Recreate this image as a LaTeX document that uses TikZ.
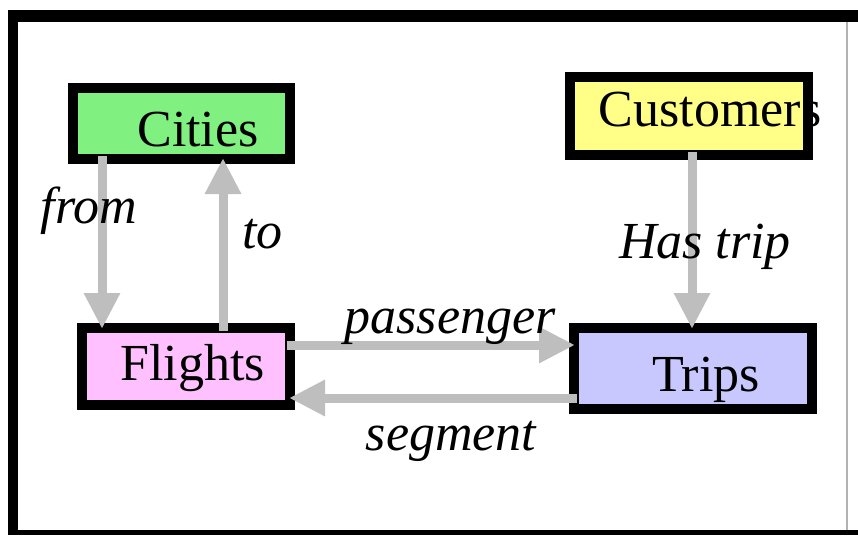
\documentclass[tikz,border=0pt]{standalone}
\usepackage{fontspec}
\setmainfont{Liberation Serif}
\usetikzlibrary{arrows.meta}
\definecolor{cityfill}{RGB}{128,240,128}
\definecolor{custfill}{RGB}{255,255,136}
\definecolor{flightfill}{RGB}{255,192,255}
\definecolor{tripfill}{RGB}{200,200,255}
\definecolor{linkgray}{RGB}{190,190,190}
\begin{document}
\begin{tikzpicture}[x=1pt,y=-1pt,font=\fontsize{52}{60}\selectfont,
  entity/.style={draw=black,line width=10pt,inner sep=0pt},
  link/.style={draw=linkgray,line width=9pt,-{Triangle[width=34pt,length=36pt]},shorten <=-8pt,shorten >=-6pt},
  role/.style={font=\fontsize{52}{60}\selectfont\itshape,inner sep=0pt,anchor=base}]
  \useasboundingbox (0,0) rectangle (858,535);
  % frame
  \fill (8,10) rectangle (858,22);
  \fill (8,10) rectangle (18,535);
  \fill (8,530) rectangle (858,535);
  \draw[gray!60,line width=1.5pt] (847,22) -- (847,530);
  % tables
  \node[entity,fill=cityfill,minimum width=217pt,minimum height=71pt,
    label={[xshift=16.5pt,yshift=-6.5pt]center:Cities}] (cities) at (181.5,123.5) {};
  \node[entity,fill=custfill,minimum width=238pt,minimum height=78pt,
    label={[xshift=21pt,yshift=6pt]center:Customers}] (customers) at (689,116) {};
  \node[entity,fill=flightfill,minimum width=208pt,minimum height=77pt,
    label={[xshift=6.5pt,yshift=-1.5pt]center:Flights}] (flights) at (186,366.5) {};
  \node[entity,fill=tripfill,minimum width=238pt,minimum height=81pt,
    label={[xshift=13pt,yshift=-11.5pt]center:Trips}] (trips) at (693,368.5) {};
  % links between tables
  \draw[link] ([xshift=-79.5pt]cities.south) -- ([xshift=-79.5pt]cities.south |- flights.north);
  \draw[link] ([xshift=41.5pt]cities.south |- flights.north) -- ([xshift=41.5pt]cities.south);
  \draw[link] ([xshift=3pt]customers.south) -- ([xshift=3pt]customers.south |- trips.north);
  \draw[link] ([yshift=21.5pt]flights.east) -- ([yshift=21.5pt]flights.east -| trips.west);
  \draw[link] ([yshift=-31.5pt]flights.east -| trips.west) -- ([yshift=-31.5pt]flights.east);
  % role names
  \node[role] (fromlbl) at (89,223) {from};
  \node[role] (tolbl) at (262.5,248) {to};
  \node[role] (haslbl) at (705,258) {Has trip};
  \node[role] (passlbl) at (450,333) {passenger};
  \node[role] (seglbl) at (451,450) {segment};
\end{tikzpicture}
\end{document}
